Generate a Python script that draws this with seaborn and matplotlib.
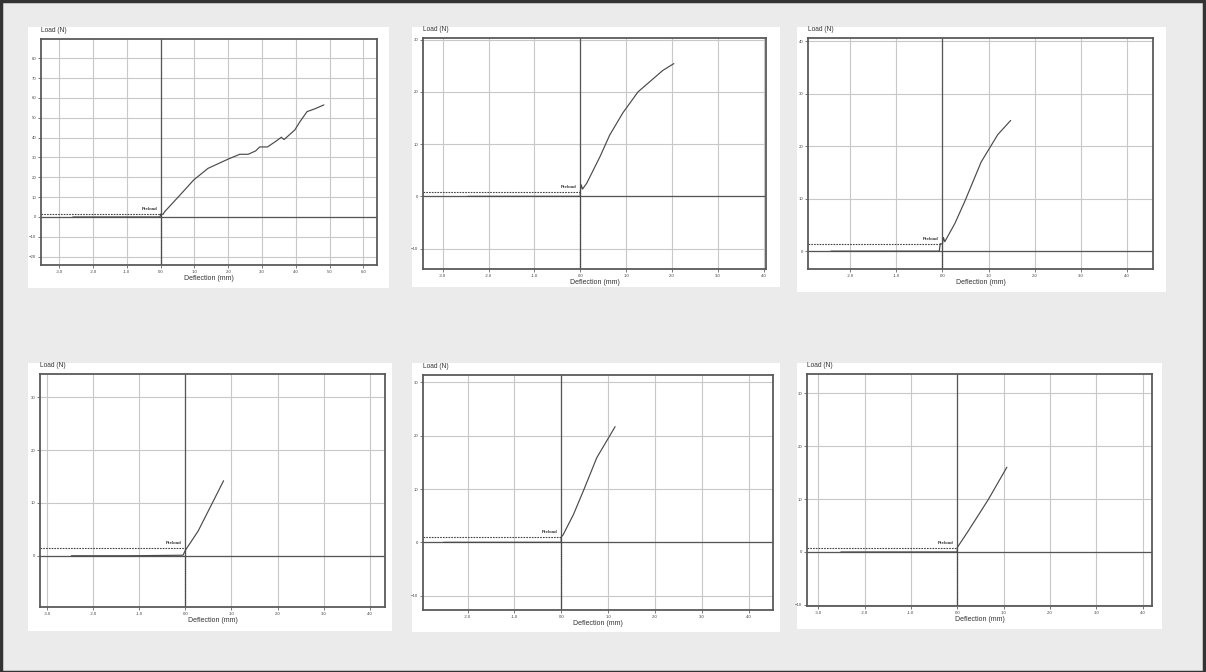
import matplotlib
matplotlib.use("Agg")
import matplotlib.pyplot as plt
from matplotlib.patches import Rectangle
from matplotlib.ticker import MultipleLocator, FormatStrFormatter
import seaborn as sns

# load / deflection curves
defl_1 = [-2.6, -0.02, 0.0, 0.07, 0.12, 0.57, 0.98, 1.4, 2.0, 2.34, 2.59, 2.81,
          2.93, 3.16, 3.42, 3.57, 3.65, 3.97, 4.12, 4.33, 4.56, 4.83]
load_1 = [0, 0, 1.5, 1.3, 2.7, 11, 18.7, 24.5, 29.2, 31.6, 31.6, 33.3,
          35.3, 35.3, 38.3, 40.2, 39, 43.9, 48, 53.1, 54.5, 56.5]

defl_2 = [-2.45, 0.0, 0.0, 0.02, 0.05, 0.14, 0.43, 0.64, 0.93, 1.26, 1.51, 1.8, 2.04]
load_2 = [0, 0, 0.9, 2.2, 1.4, 2.5, 7.6, 11.7, 16, 20, 21.9, 24.1, 25.4]

defl_3 = [-2.42, -0.07, -0.05, 0.0, 0.02, 0.05, 0.27, 0.48, 0.84, 1.2, 1.48]
load_3 = [0, 0, 1.4, 1.4, 2.6, 1.8, 5.3, 9.4, 17, 22.2, 24.9]

defl_4 = [-2.47, -1.2, -0.05, 0.0, 0.03, 0.28, 0.57, 0.83]
load_4 = [0, 0, 0.1, 1.0, 1.4, 4.7, 9.7, 14.2]

defl_5 = [-2.51, 0.0, 0.0, 0.04, 0.26, 0.47, 0.76, 1.15]
load_5 = [0, 0, 1.0, 1.4, 5.2, 9.6, 15.9, 21.7]

defl_6 = [-2.51, 0.0, 0.0, 0.02, 0.24, 0.67, 1.07]
load_6 = [0, 0, 0.8, 1.1, 4.0, 9.9, 16]

preloads = [1.5, 0.9, 1.4, 1.45, 0.94, 0.8]
x_ranges = [(-3.54, 6.4), (-3.43, 4.05), (-2.92, 4.57), (-3.15, 4.33), (-2.95, 4.52), (-3.24, 4.2)]
y_ranges = [(-24.2, 89.7), (-13.9, 30.3), (-3.4, 40.6), (-9.7, 34.4), (-12.7, 31.4), (-10.2, 33.6)]

curves = [(defl_1, load_1), (defl_2, load_2), (defl_3, load_3),
          (defl_4, load_4), (defl_5, load_5), (defl_6, load_6)]

# layout in pixels: white card (x0, y0, x1, y1) and axes box (left, top, right, bottom)
W, H = 1206, 672
cards = [(28, 27, 389, 288), (412, 27, 780, 287), (797, 27, 1166, 292),
         (28, 363, 392, 631), (412, 363, 780, 632), (797, 363, 1162, 629)]
boxes = [(41, 39, 377, 265), (423, 38, 766, 269), (808, 38, 1153, 269),
         (40, 374, 385, 607), (423, 375, 773, 610), (807, 374, 1152, 606)]

sns.set_style("white")
plt.rcParams['font.family'] = ['Liberation Sans', 'DejaVu Sans']

fig = plt.figure(figsize=(W / 100, H / 100), dpi=100, facecolor='#ebebeb')

for (x0, y0, x1, y1) in cards:
    fig.patches.append(Rectangle((x0 / W, 1 - y1 / H), (x1 - x0) / W, (y1 - y0) / H,
                                 transform=fig.transFigure, facecolor='white',
                                 edgecolor='none', zorder=-5))
fig.patches.append(Rectangle((0.001, 0.0), 0.997, 0.998, transform=fig.transFigure,
                             fill=False, edgecolor='#333333', linewidth=2.5, zorder=5))

for i, (defl, load) in enumerate(curves):
    l, t, r, b = boxes[i]
    ax = fig.add_axes([l / W, 1 - b / H, (r - l) / W, (b - t) / H])
    ax.set_zorder(2)
    ax.set_facecolor('white')
    ax.set_xlim(*x_ranges[i])
    ax.set_ylim(*y_ranges[i])
    ax.xaxis.set_major_locator(MultipleLocator(1.0))
    ax.xaxis.set_major_formatter(FormatStrFormatter('%.1f'))
    ax.yaxis.set_major_locator(MultipleLocator(10))
    ax.grid(True, color='#c8c8c8', linewidth=0.8)
    ax.set_axisbelow(True)
    for sp in ax.spines.values():
        sp.set_color('#5a5a5a')
        sp.set_linewidth(1.3)
    ax.tick_params(axis='both', labelsize=3.1, colors='#444444', length=2, width=0.5,
                   pad=1.5, direction='out', left=True, bottom=True)

    ax.axhline(0, color='#555555', linewidth=0.9, zorder=1)
    ax.axvline(0, color='#555555', linewidth=0.9, zorder=1)

    pre = preloads[i]
    ax.plot([x_ranges[i][0], 0], [pre, pre], color='#444444', linestyle=(0, (1.5, 1)),
            linewidth=0.8, zorder=2)
    ax.plot([0, 0], [y_ranges[i][0], pre], color='#444444', linestyle=(0, (1, 1)),
            linewidth=0.8, zorder=2)
    ax.text(-0.08, pre + 0.012 * (y_ranges[i][1] - y_ranges[i][0]), 'Preload',
            ha='right', va='bottom', fontsize=3.2, fontweight='bold', color='#333333')

    sns.lineplot(x=defl, y=load, ax=ax, color='#4a4a4a', linewidth=0.85,
                 sort=False, estimator=None, zorder=3)

    ax.set_xlabel('Deflection (mm)', fontsize=5, color='#333333', labelpad=1)
    ax.set_ylabel('')
    ax.text(0.0, 1.02, 'Load (N)', transform=ax.transAxes, ha='left', va='bottom',
            fontsize=4.8, color='#333333')

fig.savefig('out.png', dpi=100, facecolor=fig.get_facecolor())
